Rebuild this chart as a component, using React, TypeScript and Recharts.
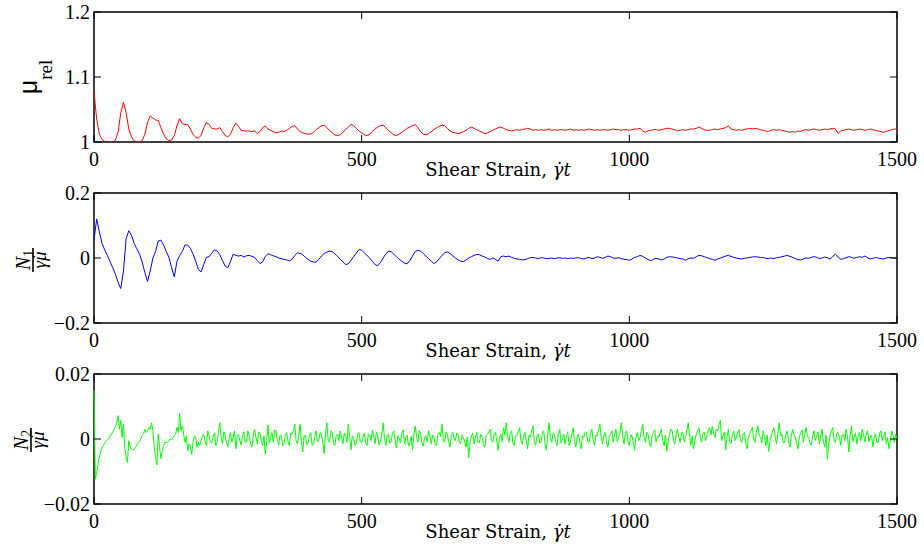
import React from 'react';
import { LineChart, Line, XAxis, YAxis, ReferenceArea } from 'recharts';

// mu_rel and N1 sampled every 5 strain units, N2 every 2.5, over 0..1500
const STEP_MU = 5;
const STEP_N1 = 5;
const STEP_N2 = 2.5;

const MU_REL = [
  1.077, 1.035, 1.012, 1.004, 1.001, 1.000, 1.000, 1.000, 1.003, 1.015, 1.045, 1.061, 1.045, 1.020, 1.008, 1.002, 1.000, 1.000, 1.002, 1.012,
  1.030, 1.040, 1.037, 1.034, 1.033, 1.022, 1.012, 1.005, 1.002, 1.003, 1.010, 1.025, 1.036, 1.028, 1.027, 1.027, 1.020, 1.012, 1.007, 1.006,
  1.010, 1.022, 1.030, 1.027, 1.021, 1.020, 1.020, 1.022, 1.016, 1.010, 1.008, 1.012, 1.022, 1.029, 1.024, 1.018, 1.017, 1.017, 1.017, 1.016,
  1.017, 1.013, 1.016, 1.022, 1.025, 1.020, 1.018, 1.016, 1.014, 1.015, 1.017, 1.016, 1.018, 1.021, 1.024, 1.025, 1.020, 1.016, 1.014, 1.013,
  1.012, 1.012, 1.015, 1.019, 1.022, 1.025, 1.026, 1.022, 1.018, 1.014, 1.011, 1.010, 1.011, 1.015, 1.019, 1.023, 1.027, 1.025, 1.021, 1.017,
  1.014, 1.011, 1.010, 1.012, 1.016, 1.020, 1.023, 1.025, 1.026, 1.022, 1.018, 1.014, 1.011, 1.010, 1.012, 1.015, 1.018, 1.021, 1.023, 1.025,
  1.027, 1.022, 1.016, 1.012, 1.011, 1.013, 1.016, 1.019, 1.022, 1.024, 1.026, 1.025, 1.021, 1.017, 1.015, 1.014, 1.013, 1.014, 1.016, 1.018,
  1.021, 1.023, 1.021, 1.019, 1.017, 1.015, 1.013, 1.014, 1.016, 1.018, 1.020, 1.022, 1.023, 1.021, 1.019, 1.018, 1.017, 1.018, 1.019, 1.018,
  1.019, 1.020, 1.021, 1.020, 1.018, 1.019, 1.018, 1.019, 1.018, 1.019, 1.020, 1.018, 1.019, 1.018, 1.019, 1.019, 1.018, 1.019, 1.020, 1.018,
  1.019, 1.018, 1.019, 1.018, 1.019, 1.020, 1.019, 1.018, 1.019, 1.018, 1.019, 1.019, 1.018, 1.019, 1.020, 1.019, 1.019, 1.018, 1.019, 1.019,
  1.018, 1.019, 1.020, 1.020, 1.021, 1.017, 1.015, 1.017, 1.018, 1.019, 1.019, 1.018, 1.019, 1.020, 1.021, 1.021, 1.020, 1.019, 1.017, 1.018,
  1.019, 1.018, 1.019, 1.020, 1.020, 1.021, 1.023, 1.021, 1.019, 1.018, 1.018, 1.019, 1.020, 1.019, 1.020, 1.021, 1.022, 1.025, 1.020, 1.019,
  1.018, 1.019, 1.018, 1.019, 1.020, 1.021, 1.020, 1.021, 1.020, 1.019, 1.018, 1.017, 1.016, 1.018, 1.019, 1.018, 1.019, 1.018, 1.017, 1.016,
  1.015, 1.016, 1.015, 1.017, 1.016, 1.018, 1.019, 1.018, 1.019, 1.020, 1.019, 1.018, 1.019, 1.020, 1.019, 1.020, 1.021, 1.020, 1.013, 1.017,
  1.018, 1.019, 1.020, 1.019, 1.018, 1.019, 1.020, 1.019, 1.018, 1.019, 1.020, 1.019, 1.018, 1.017, 1.016, 1.015, 1.016, 1.018, 1.019, 1.020,
  1.020,
];

const N1 = [
  0.055, 0.12, 0.08, 0.045, 0.025, 0.008, -0.011, -0.03, -0.05, -0.075, -0.094, -0.04, 0.06, 0.084, 0.07, 0.045, 0.028, 0.012, -0.012, -0.045,
  -0.072, -0.04, 0, 0.02, 0.052, 0.055, 0.04, 0.02, 0.002, -0.03, -0.058, -0.01, 0.008, 0.02, 0.04, 0.04, 0.03, 0.012, -0.01, -0.035,
  -0.043, -0.02, 0.002, 0.004, 0.015, 0.025, 0.022, 0.01, -0.008, -0.025, -0.03, -0.01, 0.012, 0.008, 0.006, 0.008, 0.003, 0.007, 0.008, 0.005,
  0.002, -0.008, -0.017, -0.012, 0.005, 0.013, 0.01, 0.007, 0.004, 0, -0.002, -0.004, -0.006, -0.009, -0.004, 0.008, 0.016, 0.014, 0.01, 0.002,
  -0.004, -0.01, -0.012, -0.013, -0.004, 0.006, 0.014, 0.018, 0.021, 0.02, 0.013, 0.005, -0.004, -0.012, -0.02, -0.018, -0.008, 0.004, 0.015, 0.026,
  0.024, 0.016, 0.008, 0, -0.01, -0.02, -0.024, -0.014, 0, 0.012, 0.021, 0.02, 0.012, 0.004, -0.004, -0.01, -0.016, -0.018, -0.008, 0.006,
  0.02, 0.024, 0.021, 0.014, 0.006, -0.002, -0.01, -0.017, -0.012, -0.002, 0.008, 0.016, 0.019, 0.014, 0.007, 0, -0.006, -0.01, -0.011, -0.006,
  0, 0.004, 0.008, 0.011, 0.01, 0.006, 0.003, -0.002, -0.004, 0, -0.004, -0.01, 0.004, 0.006, 0.004, 0.006, 0.002, -0.001, -0.003, -0.004,
  -0.006, -0.005, -0.002, 0.001, 0.002, 0, -0.002, 0.001, 0, -0.002, -0.001, 0, -0.002, 0, 0.001, -0.001, 0, -0.002, 0, -0.001,
  0, 0.001, -0.002, -0.003, 0, 0.002, -0.002, 0, 0.004, 0.002, -0.001, 0.002, 0.006, 0.004, 0, -0.001, 0.001, -0.002, -0.004, -0.005,
  -0.007, -0.003, 0.002, 0.004, 0.008, 0.005, 0, -0.005, -0.008, -0.004, -0.001, -0.003, -0.006, -0.003, 0.002, 0.004, 0.003, 0.002, 0, -0.002,
  -0.003, -0.007, -0.002, 0, -0.001, 0.004, 0.008, 0.007, 0.004, 0.001, -0.002, -0.004, -0.007, -0.003, 0, 0.003, 0.006, 0.008, 0.005, 0.002,
  0, -0.002, -0.003, -0.001, 0, 0.002, 0.003, 0.004, 0.003, 0.002, 0.001, -0.001, -0.002, 0, -0.002, 0.001, 0.002, 0.004, 0.006, 0.008,
  0.005, 0.002, -0.002, -0.005, -0.006, -0.003, 0, -0.001, 0.002, 0.004, 0.002, -0.002, 0, 0.003, 0.001, -0.004, 0.005, 0.012, 0.003, -0.004,
  -0.002, 0.001, 0.004, 0.002, -0.001, 0.002, 0.004, 0.002, 0.006, 0.001, -0.003, -0.001, 0.001, 0, -0.002, -0.003, 0, 0.002, 0.001, 0,
  0,
];

const N2 = [
  // 0 .. 197.5
  0.015, -0.0124, -0.0105, -0.0078, -0.0055, -0.004, -0.0028, -0.002, -0.0013, -0.0008, -0.0003, 0.0002, 0.0008, 0.0015, 0.0022, 0.003, 0.0038, 0.0048, 0.0072, 0.003,
  0.0057, 0.0005, 0.0045, -0.0026, -0.0055, -0.0072, -0.0005, -0.0025, -0.003, -0.0034, -0.0032, -0.0026, -0.0018, -0.0014, -0.0008, 0.0002, 0.0012, 0.0016, 0.003, 0.002,
  0.0025, 0.0036, 0.003, 0.005, 0.0026, -0.0025, -0.0057, -0.008, 0.0015, -0.0026, -0.006, -0.0036, -0.002, -0.001, -0.0012, -0.001, -0.0004, 0, -0.0003, 0.0005,
  0.001, 0.0015, 0.0036, 0.002, 0.008, 0.0026, 0.004, 0.0015, -0.001, 0.001, -0.0036, -0.0015, -0.002, -0.0047, -0.001, 0.001, 0.0005, -0.0026, -0.001, -0.002,
  // 200 ..
  -0.0005, 0.001, 0.0015, -0.0008, -0.002, 0.0025, 0.001, -0.001, -0.0012, 0.0008, 0.0018, -0.002, -0.0008, 0.002, 0.005, 0.0005, -0.0015, 0.0022, 0.0012, -0.001,
  -0.0025, 0.0005, 0.002, -0.001, 0.0005, 0.0025, -0.003, 0.0008, 0.0015, -0.0005, -0.0018, 0.001, 0.0022, -0.0012, -0.0008, 0.0025, 0.0008, -0.0015, -0.0025, 0.0012,
  // 300 ..
  0.003, 0.0005, -0.0015, 0.0022, 0.0018, -0.0008, -0.002, 0.001, -0.0046, -0.001, 0.0043, -0.0012, 0.0005, 0.002, -0.001, 0.0028, 0.0025, -0.0005, -0.0018, 0.0012,
  0.001, -0.002, -0.0015, 0.0015, 0.002, -0.0008, -0.002, 0.0018, 0.0015, 0.0025, 0.0046, -0.0005, -0.0015, 0.001, 0.0045, -0.0008, -0.004, 0.0012, 0.001, -0.0018,
  // 400 ..
  -0.001, 0.0012, 0.002, -0.002, -0.0015, 0.0008, 0.0025, -0.0008, -0.0005, 0.002, 0.0015, -0.0012, -0.0045, 0.0018, 0.005, -0.0005, -0.001, 0.0025, 0.002, -0.0015,
  -0.002, 0.001, 0.0015, -0.0005, 0.0025, 0.0005, -0.0015, 0.0018, 0.001, -0.001, 0.0045, 0.0008, -0.0033, 0.001, 0.0005, -0.002, -0.0015, 0.0015, 0.002, -0.0008,
  // 500 ..
  -0.0012, 0.0005, 0.0018, -0.0012, -0.002, 0.0015, 0.001, -0.0005, 0.0028, 0.0008, -0.0015, 0.0022, 0.0012, -0.0018, -0.0008, 0.0015, 0.005, 0.0005, -0.002, 0.001,
  0.0015, -0.0012, -0.001, 0.002, 0.0025, -0.0005, -0.0028, 0.001, 0.0005, -0.0012, 0.002, 0.0028, -0.0015, 0.0005, 0.0012, -0.0022, -0.001, 0.0008, -0.0032, 0.0015,
  // 600 ..
  0.004, 0.0008, -0.001, 0.0025, 0.0018, -0.0012, -0.0022, 0.0005, 0.001, -0.0008, 0.0025, 0.001, -0.0015, 0.0012, 0.0005, -0.0018, -0.002, 0.0015, 0.002, 0.0008,
  0.0045, -0.0005, -0.001, 0.0022, 0.0015, -0.0008, -0.0025, 0.001, 0.002, 0.0005, -0.0005, 0.0018, 0.0015, -0.001, -0.0015, 0.0012, 0.0005, -0.0008, -0.0025, 0.0005,
  // 700 ..
  -0.0057, -0.001, 0.001, 0.0018, -0.0015, 0.0005, 0.002, -0.0012, -0.001, 0.0015, 0.0005, -0.0018, -0.0025, 0.001, 0.0015, 0.0022, 0.003, -0.0005, -0.001, 0.0015,
  0.002, -0.0008, -0.0035, 0.0005, 0.0015, -0.0008, 0.0035, 0.0012, 0.005, 0.0008, -0.001, 0.002, 0.0025, -0.0012, -0.002, 0.0008, 0.001, 0.0022, 0.0035, -0.0005,
  // 800 ..
  -0.0015, 0.0008, 0.002, -0.0005, -0.003, 0.0012, 0.0005, 0.0025, 0.004, -0.0008, -0.002, 0.001, 0.0015, -0.0012, -0.001, 0.002, 0.0025, -0.0015, -0.0035, 0.0012,
  0.005, 0.0005, -0.001, 0.0018, 0.0015, -0.0008, -0.002, 0.0015, 0.003, -0.0012, 0, 0.0015, -0.0015, 0.0008, 0.002, -0.002, -0.001, 0.0012, 0.0035, -0.0005,
  // 900 ..
  -0.0025, 0.0005, 0.0015, -0.0012, -0.003, 0.001, 0.0005, 0.0022, 0.002, -0.0008, -0.001, 0.0018, 0.003, -0.0005, -0.002, 0.0012, 0.001, 0.0028, 0.0045, 0.0005,
  -0.0015, 0.001, 0.002, -0.0012, -0.0025, 0.0008, 0.0015, 0.0025, -0.001, 0.0012, 0.003, -0.0008, 0.0005, 0.002, 0.005, 0.001, -0.0015, 0.0018, 0.0025, -0.0008,
  // 1000 ..
  -0.002, 0.0012, 0.001, -0.0015, -0.0035, 0.0008, 0.002, -0.0005, 0.0005, 0.0025, 0.0045, 0.0005, -0.001, 0.002, 0.0015, -0.0012, -0.0025, 0.001, 0.002, 0.0028,
  -0.001, 0.0008, 0.0005, 0.0018, 0.003, -0.0005, -0.002, 0.0012, -0.0036, -0.0008, 0.0015, 0.003, 0.0025, -0.0005, -0.0015, 0.0015, 0.003, 0.0005, -0.001, 0.0018,
  // 1100 ..
  0.002, -0.0008, 0.0005, 0.0028, 0.005, 0.0008, -0.002, 0.001, -0.003, -0.0005, 0.0015, 0.0025, 0.0035, 0.0005, -0.001, 0.0018, 0.002, -0.0005, 0.001, 0.0028,
  0.0035, 0.0012, 0.004, 0.0015, 0.0005, 0.003, 0.0025, 0.0045, 0.0057, -0.0005, 0.001, 0.0022, -0.0034, 0.0008, 0.003, -0.0008, -0.0015, 0.0012, 0.0025, -0.0005,
  // 1200 ..
  0.0005, 0.0022, 0.003, -0.0005, -0.001, 0.0015, 0.002, -0.0012, -0.003, 0.0005, 0.0015, 0.0028, 0.0035, -0.0005, -0.001, 0.0022, 0.004, 0.0012, 0.0005, -0.0012,
  0.0025, 0.0008, -0.002, 0.0012, -0.0038, -0.001, 0.001, 0.0025, 0.0035, 0.0005, -0.0015, 0.0018, 0.005, 0.001, 0.0015, -0.0012, -0.001, 0.0015, 0.0025, -0.0005,
  // 1300 ..
  -0.0025, 0.0008, 0.003, 0.0015, 0.0005, -0.0012, -0.003, 0.0005, 0.002, 0.0028, -0.001, 0.0012, 0.0035, 0.0008, 0.0005, -0.0012, -0.002, 0.001, 0.0025, -0.0005,
  0.001, 0.0022, -0.0015, 0.0008, 0.003, -0.0008, -0.0025, 0.0012, -0.0062, -0.0015, 0.001, 0.0025, 0.0035, -0.0005, -0.001, 0.0018, 0.002, 0.0005, -0.002, 0.0012,
  // 1400 ..
  0.0015, -0.0005, 0.003, 0.0008, -0.004, 0.001, 0.004, -0.0008, 0.0005, 0.0018, -0.0015, 0.001, 0.002, -0.0005, 0.003, 0.0012, -0.001, 0.0015, 0.0025, -0.0008,
  0.0005, 0.0012, -0.0025, 0.0005, 0.0015, -0.0012, -0.001, 0.0018, 0.0025, -0.0005, 0.001, 0.0022, -0.0015, 0.0005, -0.003, -0.0008, 0.0025, 0.0012, -0.001, 0.0015,
  0,
];

const X_TICKS = [0, 500, 1000, 1500];
const MU_TICKS = [1, 1.1, 1.2];
const N1_TICKS = [-0.2, 0, 0.2];
const N2_TICKS = [-0.02, 0, 0.02];

// layout (per panel)
const W = 924;
const H = 181;
const LEFT = 94;
const RIGHT = 897;
const TOP = 12;
const BOTTOM = 142;
const TICK_LEN = 7;
const SERIF = 'Liberation Serif';
const LABEL_FONT = 'DejaVu Serif';

const fmt = (v: number) => (v < 0 ? '\u2212' + Math.abs(v) : String(v));

const XTick = (props: any) => {
  const { x, payload } = props;
  return (
    <g>
      <line x1={x} y1={BOTTOM} x2={x} y2={BOTTOM - TICK_LEN} stroke="#000" strokeWidth={1} />
      <line x1={x} y1={TOP} x2={x} y2={TOP + TICK_LEN} stroke="#000" strokeWidth={1} />
      <text x={x} y={BOTTOM + 24} textAnchor="middle" style={{ fontFamily: SERIF, fontSize: 20 }} fill="#000">
        {payload.value}
      </text>
    </g>
  );
};

const YTick = (props: any) => {
  const { y, payload } = props;
  return (
    <g>
      <line x1={LEFT} y1={y} x2={LEFT + TICK_LEN} y2={y} stroke="#000" strokeWidth={1} />
      <line x1={RIGHT} y1={y} x2={RIGHT - TICK_LEN} y2={y} stroke="#000" strokeWidth={1} />
      <text x={LEFT - 4} y={y + 7} textAnchor="end" style={{ fontFamily: SERIF, fontSize: 20 }} fill="#000">
        {fmt(payload.value)}
      </text>
    </g>
  );
};

const XLabel = () => (
  <text x={498} y={BOTTOM + 34} textAnchor="middle" style={{ fontFamily: LABEL_FONT, fontSize: 18 }} fill="#000">
    Shear Strain, <tspan fontStyle="italic">{'\u03B3\u0307t'}</tspan>
  </text>
);

const MuLabel = () => (
  <g transform="translate(37, 77) rotate(-90)">
    <text textAnchor="middle" fill="#000">
      <tspan style={{ fontFamily: 'Liberation Sans', fontSize: 25 }}>μ</tspan>
      <tspan style={{ fontFamily: SERIF, fontSize: 19 }} dy={15}>rel</tspan>
    </text>
  </g>
);

const FracLabel = ({ sub, cx, cy }: { sub: string; cx: number; cy: number }) => (
  <g transform={`translate(${cx}, ${cy}) rotate(-90)`}>
    <text x={0} y={-3} textAnchor="middle" style={{ fontFamily: SERIF }} fill="#000">
      <tspan fontSize={20} fontStyle="italic">N</tspan>
      <tspan fontSize={14} dy={3}>{sub}</tspan>
    </text>
    <line x1={-12} y1={0} x2={12} y2={0} stroke="#000" strokeWidth={1.6} />
    <text x={0} y={13} textAnchor="middle" fontSize={19} fontStyle="italic" style={{ fontFamily: SERIF }} fill="#000">
      {'\u03B3\u0307\u03BC'}
    </text>
  </g>
);

type PanelProps = {
  values: number[];
  step: number;
  color: string;
  domain: [number, number];
  ticks: number[];
  top: number;
  yLabel: React.ReactNode;
};

const Panel = ({ values, step, color, domain, ticks, top, yLabel }: PanelProps) => {
  const data = values.map((v, i) => ({ strain: i * step, v }));
  return (
    <div style={{ position: 'absolute', left: 0, top, width: W, height: H }}>
      <LineChart
        width={W}
        height={H}
        data={data}
        margin={{ top: TOP, right: W - RIGHT, bottom: 0, left: 0 }}
      >
        <XAxis
          dataKey="strain"
          type="number"
          domain={[0, 1500]}
          ticks={X_TICKS}
          interval={0}
          tick={<XTick />}
          tickLine={false}
          axisLine={false}
          height={H - BOTTOM}
        />
        <YAxis
          type="number"
          domain={domain}
          ticks={ticks}
          interval={0}
          tick={<YTick />}
          tickLine={false}
          axisLine={false}
          width={LEFT}
          allowDataOverflow
        />
        <Line
          type="linear"
          dataKey="v"
          stroke={color}
          strokeWidth={1}
          dot={false}
          isAnimationActive={false}
        />
        <ReferenceArea
          x1={0}
          x2={1500}
          y1={domain[0]}
          y2={domain[1]}
          fill="none"
          stroke="#000"
          strokeWidth={1.5}
        />
      </LineChart>
      <svg
        width={W}
        height={H}
        style={{ position: 'absolute', left: 0, top: 0, pointerEvents: 'none' }}
      >
        <XLabel />
        {yLabel}
      </svg>
    </div>
  );
};

export default function App() {
  return (
    <div style={{ position: 'absolute', left: 0, top: 0, width: W, height: 544, background: '#fff' }}>
      <Panel values={MU_REL} step={STEP_MU} color="#ff0000" domain={[1, 1.2]} ticks={MU_TICKS} top={0} yLabel={<MuLabel />} />
      <Panel values={N1} step={STEP_N1} color="#0000ff" domain={[-0.2, 0.2]} ticks={N1_TICKS} top={181} yLabel={<FracLabel sub="1" cx={33} cy={79} />} />
      <Panel values={N2} step={STEP_N2} color="#00ff00" domain={[-0.02, 0.02]} ticks={N2_TICKS} top={362} yLabel={<FracLabel sub="2" cx={31} cy={78} />} />
    </div>
  );
}
